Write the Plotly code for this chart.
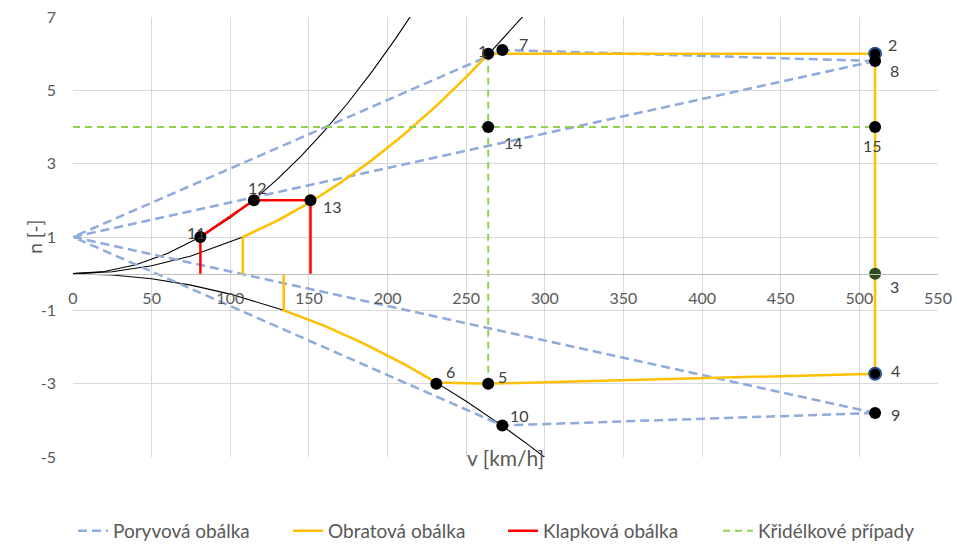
import plotly.graph_objects as go

# ---------------- data ----------------
# stall lines (black)
stall1_v = [0, 20, 40, 60, 81, 100, 115, 130, 145, 160, 175, 190, 205, 215]
stall1_n = [0, 0.061, 0.244, 0.549, 1.0, 1.524, 2.016, 2.576, 3.204, 3.902, 4.668, 5.502, 6.405, 7.045]
stall2_v = [0, 25, 50, 75, 108, 130, 150, 170, 190, 210, 230, 250, 264, 275, 286]
stall2_n = [0, 0.054, 0.214, 0.482, 1.0, 1.449, 1.929, 2.478, 3.095, 3.781, 4.535, 5.358, 5.975, 6.484, 7.013]
stall_neg_v = [0, 25, 50, 75, 100, 134, 160, 185, 210, 231, 250, 273, 290, 300]
stall_neg_n = [0, -0.035, -0.139, -0.313, -0.557, -1.0, -1.426, -1.906, -2.456, -2.972, -3.481, -4.151, -4.684, -5.012]

# Poryvová obálka (gust envelope)
gust_v = [510, 0, 273, 510, None, 510, 0, 273, 510]
gust_n = [5.8, 1, 6.1, 5.8, None, -3.8, 1, -4.14, -3.8]

# Obratová obálka (manoeuvre envelope)
man_v = [108, 108, 130, 150, 170, 190, 210, 230, 250, 264, 510, 510, 510, 264, 231, 210, 185, 160, 134, 134]
man_n = [0, 1, 1.449, 1.929, 2.478, 3.095, 3.781, 4.535, 5.358, 6.0, 6.0, 0, -2.73, -3.0, -2.97, -2.456, -1.906, -1.426, -1.0, 0]

# Klapková obálka (flap envelope)
flap_v = [81, 81, 115, 151, 151]
flap_n = [0, 1, 2, 2, 0]

# Křidélkové případy (aileron cases)
ail_v = [0, 510, None, 264, 264]
ail_n = [4, 4, None, 6, -3]

# numbered points
pt_labels = ["1", "7", "2", "8", "15", "14", "3", "4", "9", "10", "5", "6", "11", "12", "13"]
pt_v = [264, 273, 510, 510, 510, 264, 510, 510, 510, 273, 264, 231, 81, 115, 151]
pt_n = [6.0, 6.1, 6.0, 5.8, 4.0, 4.0, 0.0, -2.73, -3.8, -4.14, -3.0, -3.0, 1.0, 2.0, 2.0]

x_ticks = [0, 50, 100, 150, 200, 250, 300, 350, 400, 450, 500, 550]
y_ticks = [-5, -3, -1, 1, 3, 5, 7]
y_ticktext = ["-5", "-3", "-1", "1", "3", "5", "7"]

# ---------------- styles ----------------
label_shift = {  # (xshift, yshift) in px
    "1": (-6, 3), "7": (21, 7), "2": (17, 9), "8": (19, -9), "15": (-3, -18),
    "14": (25, -15), "3": (19, -13), "4": (20, 3), "9": (20, -1), "10": (17, 10),
    "5": (14, 7), "6": (14, 12), "11": (-4, 5), "12": (4, 13), "13": (22, -6),
}
marker_fill = {"3": "#2E4A1F"}
marker_line = {"2": "#2F5597", "4": "#2F5597"}

FONT = "Lato, 'Open Sans', sans-serif"
GREY = "#595959"

fig = go.Figure()

for v, n in [(stall1_v, stall1_n), (stall2_v, stall2_n), (stall_neg_v, stall_neg_n)]:
    fig.add_trace(go.Scatter(x=v, y=n, mode="lines", line=dict(color="black", width=1.1),
                             showlegend=False, hoverinfo="skip"))

fig.add_trace(go.Scatter(x=gust_v, y=gust_n, mode="lines", name="Poryvová obálka",
                         line=dict(color="#8FAADC", width=2.5, dash="9px,5px"), connectgaps=False))
fig.add_trace(go.Scatter(x=man_v, y=man_n, mode="lines", name="Obratová obálka",
                         line=dict(color="#FFC000", width=2.5)))
fig.add_trace(go.Scatter(x=flap_v, y=flap_n, mode="lines", name="Klapková obálka",
                         line=dict(color="#FF0000", width=2.5)))
fig.add_trace(go.Scatter(x=ail_v, y=ail_n, mode="lines", name="Křidélkové případy",
                         line=dict(color="#92D050", width=2, dash="7px,5px"), connectgaps=False))

fig.add_trace(go.Scatter(
    x=pt_v, y=pt_n, mode="markers", showlegend=False, hoverinfo="skip",
    marker=dict(size=12,
                color=[marker_fill.get(l, "black") for l in pt_labels],
                line=dict(color=[marker_line.get(l, "black") for l in pt_labels],
                          width=[2 if l in marker_line else 0 for l in pt_labels]))))

for l, v, n in zip(pt_labels, pt_v, pt_n):
    dx, dy = label_shift[l]
    fig.add_annotation(x=v, y=n, text=l, showarrow=False, xshift=dx, yshift=dy,
                       font=dict(family=FONT, size=16, color="#404040"))

fig.add_annotation(xref="paper", yref="paper", x=0.5, y=-0.034, text="v [km/h]",
                   showarrow=False, font=dict(family=FONT, size=21, color=GREY))
fig.add_annotation(xref="paper", yref="paper", x=-0.061, y=0.5, text="n [-]", textangle=-90,
                   showarrow=False, font=dict(family=FONT, size=19, color=GREY))

fig.update_layout(
    width=957, height=544,
    margin=dict(l=73, r=19, t=17, b=87, autoexpand=False),
    paper_bgcolor="white", plot_bgcolor="white",
    font=dict(family=FONT, size=16, color=GREY),
    xaxis=dict(range=[0, 550], tickvals=x_ticks, showgrid=True, gridcolor="#D9D9D9", gridwidth=1,
               zeroline=False, showline=True, linecolor="#BFBFBF", linewidth=1,
               anchor="free", position=5 / 12, ticks="", ticklabelstandoff=10, automargin=False,
               tickfont=dict(family=FONT, size=16, color=GREY)),
    yaxis=dict(range=[-5, 7], tickvals=y_ticks, ticktext=y_ticktext, showgrid=True,
               gridcolor="#D9D9D9", gridwidth=1, automargin=False,
               zeroline=False, showline=False, ticks="", ticklabelstandoff=16,
               tickfont=dict(family=FONT, size=16, color=GREY)),
    legend=dict(orientation="h", x=0, xanchor="left", y=-0.168, yanchor="middle",
                entrywidth=170, entrywidthmode="pixels",
                font=dict(family=FONT, size=19, color=GREY), bgcolor="rgba(0,0,0,0)"),
    showlegend=True,
)

fig.write_html("out.html", config={"displayModeBar": False},
               post_script="document.body.style.margin='0px';document.body.style.padding='0px';")
